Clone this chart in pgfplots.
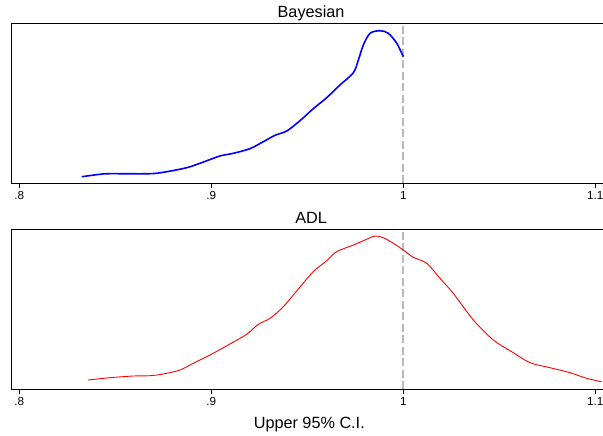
\documentclass[border=0pt]{standalone}
\usepackage{fontspec}
\setmainfont{Liberation Sans}
\usepackage{pgfplots}
\pgfplotsset{compat=1.18}
\definecolor{refgray}{RGB}{185,185,185}

\pgfplotsset{panel/.style={
  scale only axis, width=592.8bp, height=160bp,
  xmin=0.79604, xmax=1.10479, ymin=0, ymax=160,
  xtick={0.8,0.9,1,1.1}, xticklabels={.8,.9,1,1.1},
  ytick=\empty, xtick pos=left, tick align=outside,
  major tick length=5bp, tick style={black, line width=0.8bp},
  axis line style={black, line width=0.9bp},
  ticklabel style={font=\fontsize{11.7}{13}\selectfont},
  title style={font=\fontsize{16.3}{19}\selectfont, at={(0.505,1)}, anchor=base},
  clip=true,
}}

\begin{document}
\begin{tikzpicture}
\path[use as bounding box] (0,0) rectangle (603bp,436bp);

% top panel
\begin{axis}[panel, at={(11.7bp,252.7bp)}, anchor=south west, title={Bayesian}]
\addplot[refgray, dash pattern=on 8bp off 3.5bp, line width=1.8bp] coordinates {(1,0) (1,160)};
\addplot[blue, line width=1.6bp, smooth, tension=0.5] coordinates {
  (0.8325,6.6) (0.8420,9.0) (0.8472,9.6) (0.8681,9.6) (0.8768,11.6)
  (0.8872,15.6) (0.8941,20) (0.9045,27.3) (0.9115,30) (0.9201,34.6)
  (0.9271,41.6) (0.9332,48) (0.9393,52.3) (0.9462,62.6) (0.9531,74.6)
  (0.9601,85.6) (0.9670,98.3) (0.9740,110.6) (0.9766,123.3) (0.9792,138.3)
  (0.9827,150) (0.9879,152.6) (0.9922,150) (0.9966,140) (1.0000,126.6)};
\end{axis}

% bottom panel
\begin{axis}[panel, at={(11.7bp,46.7bp)}, anchor=south west, title={ADL},
  xlabel={Upper 95\% C.I.},
  xlabel style={font=\fontsize{16.3}{19}\selectfont, at={(axis description cs:0.502,0)}, anchor=base, yshift=-39bp}]
\addplot[refgray, dash pattern=on 8bp off 3.5bp, line width=1.8bp] coordinates {(1,0) (1,160)};
\addplot[red, line width=0.9bp, smooth, tension=0.5] coordinates {
  (0.8359,9.3) (0.8472,11.6) (0.8594,13.3) (0.8681,13.6) (0.8750,15.3)
  (0.8837,19.3) (0.8906,26) (0.8993,34.3) (0.9097,45.3) (0.9184,55)
  (0.9245,65) (0.9306,71) (0.9375,82.6) (0.9462,102.3) (0.9531,117.6)
  (0.9601,128.6) (0.9653,137.6) (0.9740,144.3) (0.9809,150) (0.9852,153.3)
  (0.9896,151.6) (0.9948,146) (1.0000,139.3) (1.0052,132) (1.0122,126)
  (1.0191,111) (1.0260,96) (1.0365,69.3) (1.0469,49.3) (1.0573,36.6)
  (1.0660,26.6) (1.0764,21.6) (1.0868,16.6) (1.0955,11) (1.1033,7.6)};
\end{axis}
\end{tikzpicture}
\end{document}
